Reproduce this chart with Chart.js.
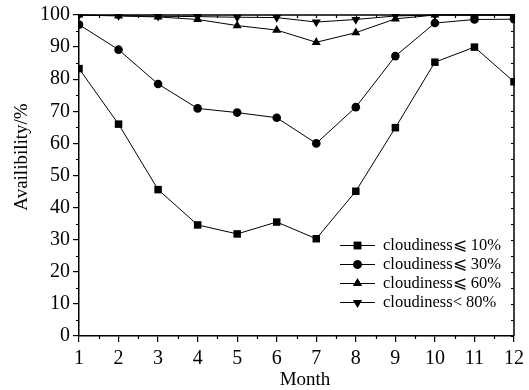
<!DOCTYPE html>
<html>
<head>
<meta charset="utf-8">
<script src="https://cdn.jsdelivr.net/npm/chart.js@4/dist/chart.umd.min.js"></script>
<style>
  html, body { margin: 0; padding: 0; background: #fff; }
  #wrap { width: 529px; height: 390px; }
</style>
</head>
<body>
<div id="wrap"><canvas id="c" width="529" height="390"></canvas></div>
<script>
// Months on the x axis
const months = [1, 2, 3, 4, 5, 6, 7, 8, 9, 10, 11, 12];

// Availability (%) per month for each cloudiness threshold
const cloud10 = [83.3, 66.0, 45.6, 34.6, 31.8, 35.5, 30.3, 45.1, 64.9, 85.3, 90.0, 79.2];
const cloud30 = [97.0, 89.2, 78.5, 70.9, 69.6, 68.0, 60.0, 71.3, 87.2, 97.5, 98.6, 98.7];
const cloud60 = [100, 99.7, 99.4, 98.6, 96.7, 95.3, 91.5, 94.5, 98.8, 100, 100, 100];
const cloud80 = [100, 99.8, 99.6, 99.5, 99.3, 99.2, 97.8, 98.6, 99.7, 100, 100, 100];

// Series labels
const seriesLabels = ['cloudiness\u2A7D 10%', 'cloudiness\u2A7D 30%', 'cloudiness\u2A7D 60%', 'cloudiness< 80%'];

// Axis ticks
const xMajorTicks = months;
const xMinorTicks = [1.5, 2.5, 3.5, 4.5, 5.5, 6.5, 7.5, 8.5, 9.5, 10.5, 11.5];
const yMajorTicks = [0, 10, 20, 30, 40, 50, 60, 70, 80, 90, 100];
const yMinorTicks = [5, 15, 25, 35, 45, 55, 65, 75, 85, 95];

const xTitle = 'Month';
const yTitle = 'Availibility/%';

const SERIF = '"Liberation Serif", "Times New Roman", serif';

function toPoints(values) {
  return months.map((m, i) => ({ x: m, y: values[i] }));
}

function series(label, values, style, radius, rotation) {
  return {
    label: label,
    data: toPoints(values),
    borderColor: '#000',
    backgroundColor: '#000',
    borderWidth: 1,
    pointStyle: style,
    pointRadius: radius,
    pointRotation: rotation,
    pointBorderWidth: 0,
    pointBackgroundColor: '#000',
    tension: 0,
    clip: 1
  };
}

// Frame, inner/minor ticks, axis titles and the legend box
const decorations = {
  id: 'decorations',
  afterDraw(chart) {
    const ctx = chart.ctx;
    const a = chart.chartArea;
    const xs = chart.scales.x;
    const ys = chart.scales.y;
    ctx.save();
    ctx.strokeStyle = '#000';
    ctx.fillStyle = '#000';

    // top and right frame lines
    ctx.lineWidth = 1.5;
    ctx.beginPath();
    ctx.moveTo(a.left, a.top);
    ctx.lineTo(a.right, a.top);
    ctx.lineTo(a.right, a.bottom);
    ctx.stroke();

    ctx.lineWidth = 1.2;
    ctx.beginPath();
    // minor ticks outward on bottom / left
    xMinorTicks.forEach(v => {
      const px = Math.round(xs.getPixelForValue(v)) + 0.5;
      ctx.moveTo(px, a.bottom); ctx.lineTo(px, a.bottom + 3);
    });
    yMinorTicks.forEach(v => {
      const py = Math.round(ys.getPixelForValue(v)) + 0.5;
      ctx.moveTo(a.left, py); ctx.lineTo(a.left - 3, py);
    });
    // inward ticks on top / right
    xMajorTicks.concat(xMinorTicks).forEach(v => {
      const px = Math.round(xs.getPixelForValue(v)) + 0.5;
      ctx.moveTo(px, a.top); ctx.lineTo(px, a.top + 3);
    });
    yMajorTicks.concat(yMinorTicks).forEach(v => {
      const py = Math.round(ys.getPixelForValue(v)) + 0.5;
      ctx.moveTo(a.right, py); ctx.lineTo(a.right - 3, py);
    });
    ctx.stroke();

    // axis titles
    ctx.font = '19px ' + SERIF;
    ctx.textAlign = 'center';
    ctx.textBaseline = 'alphabetic';
    ctx.fillText(xTitle, 305, 385);
    ctx.save();
    ctx.translate(27, 157);
    ctx.rotate(-Math.PI / 2);
    ctx.fillText(yTitle, 0, 0);
    ctx.restore();

    // legend
    const rowY = [245, 264, 283, 302];
    ctx.font = '16.5px ' + SERIF;
    ctx.textAlign = 'left';
    ctx.textBaseline = 'middle';
    chart.data.datasets.forEach((ds, i) => {
      const y = rowY[i];
      ctx.lineWidth = 1;
      ctx.beginPath();
      ctx.moveTo(340, y + 0.5);
      ctx.lineTo(375, y + 0.5);
      ctx.stroke();
      Chart.helpers.drawPoint(ctx, {
        pointStyle: ds.pointStyle,
        radius: ds.pointRadius,
        rotation: ds.pointRotation,
        borderWidth: 0
      }, 357.5, y + 0.5);
      ctx.fill();
      ctx.fillText(ds.label, 383, y + 1);
    });
    ctx.restore();
  }
};

new Chart(document.getElementById('c'), {
  type: 'line',
  data: {
    datasets: [
      series(seriesLabels[0], cloud10, 'rect', 5.3, 0),
      series(seriesLabels[1], cloud30, 'circle', 4.3, 0),
      series(seriesLabels[2], cloud60, 'triangle', 5.2, 0),
      series(seriesLabels[3], cloud80, 'triangle', 5.2, 180)
    ]
  },
  options: {
    responsive: false,
    animation: false,
    devicePixelRatio: 1,
    layout: { padding: { top: 13, right: 9, left: 0, bottom: 0 } },
    plugins: {
      legend: { display: false },
      tooltip: { enabled: false }
    },
    scales: {
      x: {
        type: 'linear',
        min: 1,
        max: 12,
        afterFit(scale) { scale.height = 54; },
        afterBuildTicks(scale) { scale.ticks = xMajorTicks.map(v => ({ value: v })); },
        ticks: {
          color: '#000',
          padding: 5,
          maxRotation: 0,
          autoSkip: false,
          font: { family: SERIF, size: 20 }
        },
        grid: { display: true, drawOnChartArea: false, color: '#000', lineWidth: 1.2, tickLength: 6 },
        border: { display: true, color: '#000', width: 1.5 }
      },
      y: {
        min: 0,
        max: 100,
        afterFit(scale) { scale.width = 79; },
        afterBuildTicks(scale) { scale.ticks = yMajorTicks.map(v => ({ value: v })); },
        ticks: {
          color: '#000',
          padding: 3,
          autoSkip: false,
          font: { family: SERIF, size: 20 }
        },
        grid: { display: true, drawOnChartArea: false, color: '#000', lineWidth: 1.2, tickLength: 6 },
        border: { display: true, color: '#000', width: 1.5 }
      }
    }
  },
  plugins: [decorations]
});
</script>
</body>
</html>
